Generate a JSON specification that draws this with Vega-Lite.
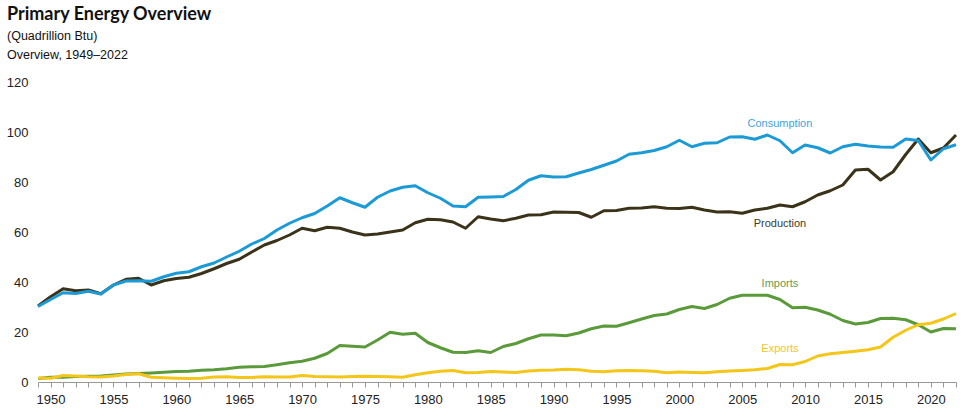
{
  "$schema": "https://vega.github.io/schema/vega-lite/v6.json",
  "autosize": {"type": "none"},
  "padding": {"left": 38, "top": 82, "right": 9, "bottom": 34},
  "width": 918,
  "height": 300,
  "background": "white",
  "title": {
    "text": "Primary Energy Overview",
    "subtitle": ["(Quadrillion Btu)", "Overview, 1949–2022"],
    "anchor": "start",
    "frame": "group",
    "dx": -31,
    "offset": 15,
    "font": "Lato",
    "fontSize": 18,
    "fontWeight": "bold",
    "color": "#111",
    "subtitleFont": "Liberation Sans",
    "subtitleFontSize": 12.5,
    "subtitleColor": "#111",
    "subtitleLineHeight": 19,
    "subtitlePadding": 6
  },
  "config": {"view": {"stroke": null}},
  "datasets": {
    "energy": [
      {"year":1949,"Consumption":30.2,"Production":30.4,"Imports":1.4,"Exports":1.6},
      {"year":1950,"Consumption":33.0,"Production":34.1,"Imports":1.9,"Exports":1.5},
      {"year":1951,"Consumption":35.7,"Production":37.3,"Imports":1.9,"Exports":2.6},
      {"year":1952,"Consumption":35.4,"Production":36.5,"Imports":2.2,"Exports":2.4},
      {"year":1953,"Consumption":36.3,"Production":36.8,"Imports":2.3,"Exports":2.1},
      {"year":1954,"Consumption":35.2,"Production":35.3,"Imports":2.4,"Exports":2.0},
      {"year":1955,"Consumption":38.8,"Production":38.8,"Imports":2.8,"Exports":2.4},
      {"year":1956,"Consumption":40.4,"Production":41.1,"Imports":3.2,"Exports":3.0},
      {"year":1957,"Consumption":40.5,"Production":41.5,"Imports":3.4,"Exports":3.3},
      {"year":1958,"Consumption":40.3,"Production":38.8,"Imports":3.6,"Exports":1.9},
      {"year":1959,"Consumption":42.1,"Production":40.5,"Imports":3.9,"Exports":1.7},
      {"year":1960,"Consumption":43.5,"Production":41.4,"Imports":4.2,"Exports":1.5},
      {"year":1961,"Consumption":44.1,"Production":41.9,"Imports":4.3,"Exports":1.4},
      {"year":1962,"Consumption":46.1,"Production":43.4,"Imports":4.7,"Exports":1.5},
      {"year":1963,"Consumption":47.6,"Production":45.3,"Imports":4.9,"Exports":2.0},
      {"year":1964,"Consumption":50.0,"Production":47.4,"Imports":5.3,"Exports":2.1},
      {"year":1965,"Consumption":52.3,"Production":49.1,"Imports":5.9,"Exports":1.8},
      {"year":1966,"Consumption":55.2,"Production":52.0,"Imports":6.1,"Exports":1.8},
      {"year":1967,"Consumption":57.4,"Production":54.8,"Imports":6.2,"Exports":2.1},
      {"year":1968,"Consumption":60.8,"Production":56.6,"Imports":6.9,"Exports":2.0},
      {"year":1969,"Consumption":63.5,"Production":58.8,"Imports":7.7,"Exports":2.0},
      {"year":1970,"Consumption":65.7,"Production":61.5,"Imports":8.3,"Exports":2.6},
      {"year":1971,"Consumption":67.4,"Production":60.5,"Imports":9.5,"Exports":2.2},
      {"year":1972,"Consumption":70.4,"Production":61.9,"Imports":11.4,"Exports":2.1},
      {"year":1973,"Consumption":73.7,"Production":61.5,"Imports":14.6,"Exports":2.0},
      {"year":1974,"Consumption":71.7,"Production":60.0,"Imports":14.3,"Exports":2.2},
      {"year":1975,"Consumption":69.9,"Production":58.8,"Imports":14.0,"Exports":2.3},
      {"year":1976,"Consumption":73.9,"Production":59.2,"Imports":16.8,"Exports":2.2},
      {"year":1977,"Consumption":76.4,"Production":60.0,"Imports":19.9,"Exports":2.1},
      {"year":1978,"Consumption":77.9,"Production":60.8,"Imports":19.1,"Exports":1.9},
      {"year":1979,"Consumption":78.5,"Production":63.7,"Imports":19.5,"Exports":2.9},
      {"year":1980,"Consumption":75.7,"Production":65.1,"Imports":15.8,"Exports":3.7},
      {"year":1981,"Consumption":73.5,"Production":64.9,"Imports":13.7,"Exports":4.3},
      {"year":1982,"Consumption":70.4,"Production":64.0,"Imports":11.9,"Exports":4.6},
      {"year":1983,"Consumption":70.1,"Production":61.5,"Imports":11.8,"Exports":3.7},
      {"year":1984,"Consumption":73.9,"Production":66.1,"Imports":12.5,"Exports":3.8},
      {"year":1985,"Consumption":74.0,"Production":65.2,"Imports":11.8,"Exports":4.2},
      {"year":1986,"Consumption":74.2,"Production":64.5,"Imports":14.2,"Exports":4.0},
      {"year":1987,"Consumption":77.0,"Production":65.5,"Imports":15.4,"Exports":3.8},
      {"year":1988,"Consumption":80.7,"Production":66.8,"Imports":17.3,"Exports":4.4},
      {"year":1989,"Consumption":82.5,"Production":66.9,"Imports":18.8,"Exports":4.7},
      {"year":1990,"Consumption":82.0,"Production":68.0,"Imports":18.8,"Exports":4.8},
      {"year":1991,"Consumption":82.1,"Production":67.9,"Imports":18.5,"Exports":5.1},
      {"year":1992,"Consumption":83.6,"Production":67.8,"Imports":19.6,"Exports":4.9},
      {"year":1993,"Consumption":85.0,"Production":65.9,"Imports":21.3,"Exports":4.3},
      {"year":1994,"Consumption":86.7,"Production":68.5,"Imports":22.4,"Exports":4.1},
      {"year":1995,"Consumption":88.4,"Production":68.6,"Imports":22.3,"Exports":4.5},
      {"year":1996,"Consumption":91.1,"Production":69.5,"Imports":23.7,"Exports":4.6},
      {"year":1997,"Consumption":91.7,"Production":69.6,"Imports":25.2,"Exports":4.5},
      {"year":1998,"Consumption":92.6,"Production":70.1,"Imports":26.6,"Exports":4.3},
      {"year":1999,"Consumption":94.1,"Production":69.5,"Imports":27.2,"Exports":3.7},
      {"year":2000,"Consumption":96.7,"Production":69.4,"Imports":29.0,"Exports":4.0},
      {"year":2001,"Consumption":94.1,"Production":69.9,"Imports":30.2,"Exports":3.8},
      {"year":2002,"Consumption":95.5,"Production":68.8,"Imports":29.4,"Exports":3.7},
      {"year":2003,"Consumption":95.7,"Production":68.0,"Imports":31.0,"Exports":4.1},
      {"year":2004,"Consumption":98.0,"Production":68.1,"Imports":33.5,"Exports":4.4},
      {"year":2005,"Consumption":98.1,"Production":67.5,"Imports":34.7,"Exports":4.6},
      {"year":2006,"Consumption":97.1,"Production":68.8,"Imports":34.7,"Exports":4.9},
      {"year":2007,"Consumption":98.8,"Production":69.5,"Imports":34.7,"Exports":5.4},
      {"year":2008,"Consumption":96.5,"Production":70.8,"Imports":33.0,"Exports":7.0},
      {"year":2009,"Consumption":91.7,"Production":70.1,"Imports":29.7,"Exports":6.9},
      {"year":2010,"Consumption":94.8,"Production":72.1,"Imports":29.9,"Exports":8.2},
      {"year":2011,"Consumption":93.7,"Production":74.8,"Imports":28.8,"Exports":10.4},
      {"year":2012,"Consumption":91.6,"Production":76.5,"Imports":27.1,"Exports":11.3},
      {"year":2013,"Consumption":94.1,"Production":78.8,"Imports":24.6,"Exports":11.8},
      {"year":2014,"Consumption":95.1,"Production":84.8,"Imports":23.2,"Exports":12.3},
      {"year":2015,"Consumption":94.4,"Production":85.1,"Imports":23.8,"Exports":12.9},
      {"year":2016,"Consumption":94.0,"Production":80.8,"Imports":25.4,"Exports":14.0},
      {"year":2017,"Consumption":93.9,"Production":84.1,"Imports":25.5,"Exports":17.9},
      {"year":2018,"Consumption":97.2,"Production":91.0,"Imports":24.9,"Exports":20.7},
      {"year":2019,"Consumption":96.6,"Production":97.2,"Imports":22.9,"Exports":22.9},
      {"year":2020,"Consumption":88.8,"Production":91.7,"Imports":20.0,"Exports":23.5},
      {"year":2021,"Consumption":93.3,"Production":93.6,"Imports":21.4,"Exports":25.2},
      {"year":2022,"Consumption":94.9,"Production":98.8,"Imports":21.3,"Exports":27.4}
    ],
    "labels": [
      {"series":"Consumption","year":2008.0,"value":103.2},
      {"series":"Production","year":2008.0,"value":63.2},
      {"series":"Imports","year":2008.0,"value":39.2},
      {"series":"Exports","year":2008.0,"value":13.2}
    ]
  },
  "encoding": {
    "x": {
      "field": "year", "type": "quantitative",
      "scale": {"domain": [1949, 2022], "nice": false, "zero": false},
      "axis": {
        "title": null,
        "values": [1949,1950,1951,1952,1953,1954,1955,1956,1957,1958,1959,1960,1961,1962,1963,1964,1965,1966,1967,1968,1969,1970,1971,1972,1973,1974,1975,1976,1977,1978,1979,1980,1981,1982,1983,1984,1985,1986,1987,1988,1989,1990,1991,1992,1993,1994,1995,1996,1997,1998,1999,2000,2001,2002,2003,2004,2005,2006,2007,2008,2009,2010,2011,2012,2013,2014,2015,2016,2017,2018,2019,2020,2021,2022],
        "format": "d",
        "labelExpr": "datum.value % 5 == 0 ? datum.label : ''",
        "grid": false,
        "ticks": true,
        "domainColor": "#999999",
        "tickColor": "#999999",
        "tickSize": 5,
        "tickWidth": 1,
        "labelPadding": 6,
        "labelFont": "Liberation Sans",
        "labelFontSize": 13,
        "labelColor": "#222222",
        "labelOverlap": false,
        "labelSeparation": 0,
        "labelBound": false,
        "labelFlush": false
      }
    },
    "y": {
      "field": "value", "type": "quantitative",
      "scale": {"domain": [0, 120], "nice": false},
      "axis": {
        "title": null,
        "values": [0, 20, 40, 60, 80, 100, 120],
        "grid": false,
        "domain": false,
        "ticks": false,
        "labelPadding": 10,
        "labelFont": "Liberation Sans",
        "labelFontSize": 13,
        "labelColor": "#222222"
      }
    }
  },
  "layer": [
    {
      "data": {"name": "energy"},
      "transform": [{"fold": ["Imports", "Exports", "Production", "Consumption"], "as": ["series", "value"]}],
      "mark": {"type": "line", "strokeWidth": 3, "strokeJoin": "round"},
      "encoding": {
        "color": {
          "field": "series", "type": "nominal",
          "scale": {"domain": ["Consumption", "Production", "Imports", "Exports"], "range": ["#1b9ad6", "#3b3319", "#5b9a3a", "#f4c619"]},
          "legend": null
        }
      }
    },
    {
      "data": {"name": "labels"},
      "mark": {"type": "text", "font": "Liberation Sans", "fontSize": 11, "align": "center", "baseline": "middle"},
      "encoding": {
        "text": {"field": "series"},
        "color": {
          "field": "series", "type": "nominal",
          "scale": {"domain": ["Consumption", "Production", "Imports", "Exports"], "range": ["#3ba6d8", "#3a3a2a", "#6a9a4c", "#f0c52a"]},
          "legend": null
        }
      }
    }
  ],
  "resolve": {"scale": {"color": "independent"}}
}
